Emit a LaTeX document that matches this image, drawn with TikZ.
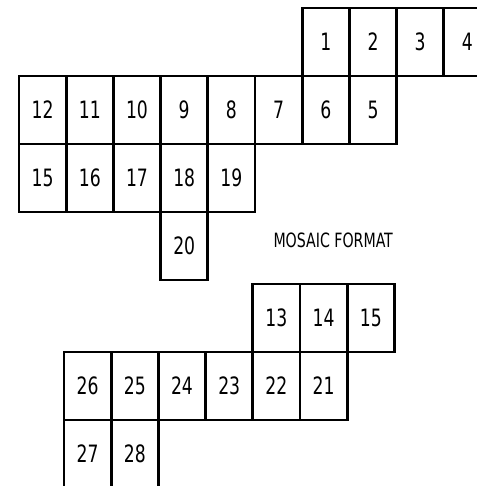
\documentclass[tikz,border=0pt]{standalone}
\usepackage{fontspec}
\setmainfont[FakeStretch=0.8]{DejaVu Sans Condensed}
\usetikzlibrary{positioning}
\tikzset{
  mcell/.style={draw, line width=2pt, minimum width=1.18cm, minimum height=1.7cm,
    inner sep=0pt, outer sep=0pt, font=\fontsize{17}{20}\selectfont},
  mtitle/.style={font=\fontsize{14}{16}\selectfont},
}
\begin{document}
\begin{tikzpicture}
  \useasboundingbox (0,0) rectangle (11.925,-12.15);

  % upper mosaic
  \node[mcell] (t12) at (1.065,-2.75) {12};
  \node[mcell, right=0pt of t12] (t11) {11};
  \node[mcell, right=0pt of t11] (t10) {10};
  \node[mcell, right=0pt of t10] (t9) {9};
  \node[mcell, right=0pt of t9] (t8) {8};
  \node[mcell, right=0pt of t8] (t7) {7};
  \node[mcell, right=0pt of t7] (t6) {6};
  \node[mcell, right=0pt of t6] (t5) {5};
  \node[mcell, above=0pt of t6] (t1) {1};
  \node[mcell, right=0pt of t1] (t2) {2};
  \node[mcell, right=0pt of t2] (t3) {3};
  \node[mcell, right=0pt of t3] (t4) {4};
  \node[mcell, below=0pt of t12] (t15) {15};
  \node[mcell, right=0pt of t15] (t16) {16};
  \node[mcell, right=0pt of t16] (t17) {17};
  \node[mcell, right=0pt of t17] (t18) {18};
  \node[mcell, right=0pt of t18] (t19) {19};
  \node[mcell, below=0pt of t18] (t20) {20};

  \node[mtitle] (title) at (8.33,-6.02) {MOSAIC FORMAT};

  % lower mosaic
  \node[mcell] (b26) at (2.19,-9.65) {26};
  \node[mcell, right=0pt of b26] (b25) {25};
  \node[mcell, right=0pt of b25] (b24) {24};
  \node[mcell, right=0pt of b24] (b23) {23};
  \node[mcell, right=0pt of b23] (b22) {22};
  \node[mcell, right=0pt of b22] (b21) {21};
  \node[mcell, above=0pt of b22] (b13) {13};
  \node[mcell, right=0pt of b13] (b14) {14};
  \node[mcell, right=0pt of b14] (b15) {15};
  \node[mcell, below=0pt of b26] (b27) {27};
  \node[mcell, right=0pt of b27] (b28) {28};
\end{tikzpicture}
\end{document}
